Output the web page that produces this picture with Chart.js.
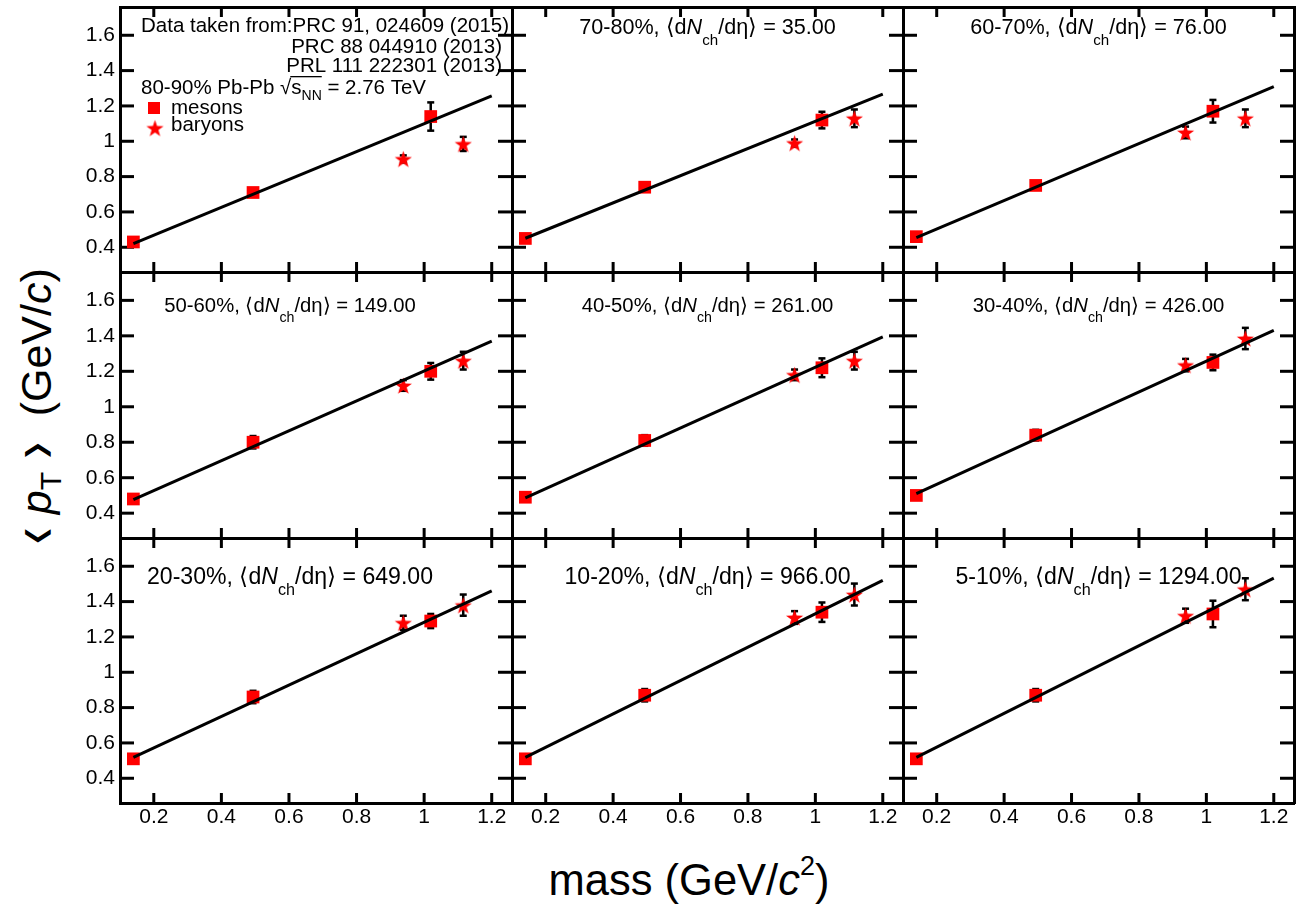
<!DOCTYPE html>
<html>
<head>
<meta charset="utf-8">
<script src="https://cdn.jsdelivr.net/npm/chart.js@4.4.1/dist/chart.umd.min.js"></script>
<style>
  html, body { margin: 0; padding: 0; background: #fff; }
  #page { position: relative; width: 1314px; height: 909px; overflow: hidden;
          font-family: "Liberation Sans", Arial, sans-serif; color: #000; }
  .panel { position: absolute; }
  .panel canvas { display: block; }
  #ytitle { position: absolute; left: 36px; top: 413px; font-size: 43px; line-height: 1;
            white-space: nowrap; transform: translate(-50%, -50%) rotate(-90deg); }
  #ytitle .br { display: inline-block; font-family: "DejaVu Sans"; font-size: 40px;
                transform: scale(1.5, 0.72); margin: 0 14px; }
  #ytitle sub { font-size: 0.7em; vertical-align: -0.35em; line-height: 0; }
  #xtitle { position: absolute; left: 689px; top: 859px; font-size: 43.5px; line-height: 1;
            white-space: nowrap; transform: translateX(-50%); }
  #xtitle sup { font-size: 0.62em; vertical-align: 0.75em; line-height: 0; }
</style>
</head>
<body>
<div id="page">
  <div id="ytitle"><span class="br">&#10216;</span><i>p</i><sub>T</sub><span class="br">&#10217;</span> (GeV/<i>c</i>)</div>
  <div id="xtitle">mass (GeV/<i>c</i><sup>2</sup>)</div>
</div>
<script>
const FONT = '"Liberation Sans", Arial, sans-serif';

// centrality classes and <dN_ch/deta>, one per panel (row by row)
const CENTRALITY = ["80-90%", "70-80%", "60-70%", "50-60%", "40-50%", "30-40%", "20-30%", "10-20%", "5-10%"];
const DNDETA = [null, "35.00", "76.00", "149.00", "261.00", "426.00", "649.00", "966.00", "1294.00"];

// particle masses (GeV/c^2): pi, K, phi  /  p, Lambda
const MESON_MASS = [0.1396, 0.4937, 1.0195];
const BARYON_MASS = [0.9383, 1.1157];

// <pT>
const MESON_PT = [
  [0.43, 0.71, 1.14], [0.45, 0.74, 1.12], [0.46, 0.75, 1.17],
  [0.48, 0.80, 1.20], [0.49, 0.81, 1.22], [0.50, 0.84, 1.25],
  [0.51, 0.86, 1.29], [0.51, 0.87, 1.34], [0.51, 0.87, 1.33],
];
const MESON_ERR = [
  [0.01, 0.015, 0.08], [0.01, 0.015, 0.047], [0.01, 0.015, 0.064],
  [0.01, 0.035, 0.047], [0.01, 0.03, 0.053], [0.01, 0.03, 0.044],
  [0.01, 0.035, 0.04], [0.01, 0.035, 0.055], [0.01, 0.035, 0.075],
];
const BARYON_PT = [
  [0.90, 0.985], [0.99, 1.13], [1.05, 1.13],
  [1.12, 1.26], [1.18, 1.26], [1.235, 1.385],
  [1.28, 1.38], [1.31, 1.44], [1.32, 1.47],
];
const BARYON_ERR = [
  [0.02, 0.04], [0.02, 0.05], [0.033, 0.05],
  [0.03, 0.05], [0.03, 0.05], [0.035, 0.06],
  [0.04, 0.06], [0.036, 0.062], [0.04, 0.062],
];

// linear fit drawn from the pion mass up to 1.2
const FIT_X = [0.1396, 1.2];
const FIT_Y = [
  [0.42, 1.257], [0.451, 1.267], [0.454, 1.309],
  [0.476, 1.37], [0.486, 1.394], [0.51, 1.431],
  [0.518, 1.461], [0.518, 1.52], [0.518, 1.533],
];

const X_TICKS = [0.2, 0.4, 0.6, 0.8, 1, 1.2];
const Y_TICKS = [0.4, 0.6, 0.8, 1, 1.2, 1.4, 1.6];
const X_RANGE = [0.1, 1.26];
const Y_RANGE = [0.26, 1.76];

const SOURCES = ["Data taken from:PRC 91, 024609 (2015)", "PRC 88 044910 (2013)", "PRL 111 222301 (2013)"];

// frame geometry of the 3x3 grid
const FRAME_LEFT = [120, 512, 903];
const FRAME_TOP = [7, 272, 538];
const FRAME_W = [392, 391, 391];
const FRAME_H = [265, 266, 265];
const LABEL_DROP = [26, 39, 45];
const LABEL_SIZE = [21.6, 20.3, 23.1];
const RED = "#ff0000";

function starImage(size, color) {
  const cv = document.createElement("canvas");
  cv.width = cv.height = size;
  const ctx = cv.getContext("2d");
  const c = size / 2;
  const ro = size / 2 - 0.5;
  const ri = ro * 0.4;
  ctx.beginPath();
  for (let k = 0; k < 10; k++) {
    const r = k % 2 ? ri : ro;
    const a = -Math.PI / 2 + (k * Math.PI) / 5;
    const px = c + r * Math.cos(a);
    const py = c + 1 + r * Math.sin(a);
    if (k === 0) ctx.moveTo(px, py); else ctx.lineTo(px, py);
  }
  ctx.closePath();
  ctx.fillStyle = color;
  ctx.fill();
  return cv;
}

const STAR = starImage(19, RED);

function drawRich(ctx, parts, x, y, align) {
  let width = 0;
  parts.forEach((p) => {
    ctx.font = p.font;
    p.w = ctx.measureText(p.text).width;
    width += p.w;
  });
  let cx = align === "center" ? x - width / 2 : align === "right" ? x - width : x;
  parts.forEach((p) => {
    ctx.font = p.font;
    p.x = cx;
    ctx.fillText(p.text, cx, y + (p.dy || 0));
    cx += p.w;
  });
  return parts;
}

const fNorm = `20.5px ${FONT}`;

// one linear axis: frame edge plus (optionally) tick labels
function axis(position, range, values, size, showLabels, labelPad) {
  const horizontal = position === "top" || position === "bottom";
  return {
    type: "linear",
    position,
    min: range[0],
    max: range[1],
    display: true,
    afterBuildTicks: (s) => { s.ticks = values.map((value) => ({ value })); },
    afterFit: (s) => {
      if (horizontal) s.height = size; else s.width = size;
      s.paddingLeft = 0;
      s.paddingRight = 0;
      s.paddingTop = 0;
      s.paddingBottom = 0;
    },
    grid: { display: false, drawTicks: false },
    border: { display: true, width: 3, color: "#000" },
    ticks: {
      display: showLabels,
      padding: labelPad,
      font: { family: FONT, size: 21 },
      color: "#000",
      maxRotation: 0,
      autoSkip: false,
      callback: (v) => String(v),
    },
  };
}

// inward tick marks on one frame edge, drawn as short dashes at the tick values
function tickMarks(points, length, rotation) {
  return {
    data: points,
    pointStyle: "dash",
    pointRadius: length,
    pointRotation: rotation,
    borderColor: "#000",
    backgroundColor: "#000",
    borderWidth: 3,
    showLine: false,
    clip: false,
  };
}

function makePanel(i) {
  const row = Math.floor(i / 3);
  const col = i % 3;
  const showY = col === 0;
  const showX = row === 2;
  // canvases touch but never overlap; outer edges get a little room
  const padL = showY ? 120 : 0;
  const padR = col === 2 ? 4 : 0;
  const padT = row === 0 ? 4 : 0;
  const padB = showX ? 50 : 0;
  const w = FRAME_W[col] + padL + padR;
  const h = FRAME_H[row] + padT + padB;

  const holder = document.createElement("div");
  holder.className = "panel";
  holder.style.left = `${FRAME_LEFT[col] - padL}px`;
  holder.style.top = `${FRAME_TOP[row] - padT}px`;
  const canvas = document.createElement("canvas");
  canvas.width = w;
  canvas.height = h;
  canvas.style.width = `${w}px`;
  canvas.style.height = `${h}px`;
  holder.append(canvas);
  document.getElementById("page").append(holder);

  const errorBars = {
    id: "errorBars",
    beforeDatasetsDraw(chart) {
      const { ctx } = chart;
      const yScale = chart.scales.y;
      ctx.save();
      ctx.fillStyle = "#000";
      chart.data.datasets.forEach((ds, di) => {
        if (!ds.errors) return;
        chart.getDatasetMeta(di).data.forEach((pt, k) => {
          const v = ds.data[k].y;
          const e = ds.errors[k];
          const y1 = yScale.getPixelForValue(v + e);
          const y2 = yScale.getPixelForValue(v - e);
          ctx.fillRect(pt.x - 1.25, y1, 2.5, y2 - y1);
          ctx.fillRect(pt.x - 3.5, y1 - 1.25, 7, 2.5);
          ctx.fillRect(pt.x - 3.5, y2 - 1.25, 7, 2.5);
        });
      });
      ctx.restore();
    },
  };

  const panelText = {
    id: "panelText",
    afterDraw(chart) {
      const ctx = chart.ctx;
      const a = chart.chartArea;
      ctx.save();
      ctx.fillStyle = "#000";
      ctx.textBaseline = "alphabetic";
      if (i === 0) {
        ctx.font = fNorm;
        ctx.textAlign = "left";
        ctx.fillText(SOURCES[0], a.left + 21, a.top + 25);
        ctx.textAlign = "right";
        ctx.fillText(SOURCES[1], a.left + 382, a.top + 46);
        ctx.fillText(SOURCES[2], a.left + 382, a.top + 65);
        ctx.textAlign = "left";
        const parts = drawRich(ctx, [
          { text: `${CENTRALITY[0]} Pb-Pb `, font: fNorm },
          { text: "\u221A", font: fNorm },
          { text: "s", font: fNorm },
          { text: "NN", font: `14px ${FONT}`, dy: 6 },
          { text: " = 2.76 TeV", font: fNorm },
        ], a.left + 21, a.top + 87, "left");
        ctx.fillRect(parts[2].x - 1, a.top + 69, parts[3].x + parts[3].w - parts[2].x + 1, 1.3);
        ctx.fillStyle = RED;
        ctx.fillRect(a.left + 28, a.top + 95, 12, 12);
        ctx.drawImage(STAR, a.left + 35 - 9.5, a.top + 121 - 9.5);
        ctx.fillStyle = "#000";
        ctx.font = fNorm;
        ctx.fillText("mesons", a.left + 51, a.top + 107);
        ctx.fillText("baryons", a.left + 51, a.top + 124);
      } else {
        const s = LABEL_SIZE[row];
        const cx = col === 0 ? a.left + 170 : (a.left + a.right) / 2;
        drawRich(ctx, [
          { text: `${CENTRALITY[i]}, \u27E8d`, font: `${s}px ${FONT}` },
          { text: "N", font: `italic ${s}px ${FONT}` },
          { text: "ch", font: `${s * 0.7}px ${FONT}`, dy: s * 0.49 },
          { text: `/d\u03B7\u27E9 = ${DNDETA[i]}`, font: `${s}px ${FONT}` },
        ], cx, a.top + LABEL_DROP[row] + 1, "center");
      }
      ctx.restore();
    },
  };

  return new Chart(canvas, {
    type: "scatter",
    data: {
      datasets: [
        {
          type: "line",
          data: FIT_X.map((x, k) => ({ x, y: FIT_Y[i][k] })),
          borderColor: "#000",
          borderWidth: 3,
          pointRadius: 0,
          fill: false,
        },
        {
          label: "mesons",
          data: MESON_MASS.map((x, k) => ({ x, y: MESON_PT[i][k] })),
          errors: MESON_ERR[i],
          pointStyle: "rect",
          pointRadius: 9,
          backgroundColor: RED,
          borderWidth: 0,
        },
        {
          label: "baryons",
          data: BARYON_MASS.map((x, k) => ({ x, y: BARYON_PT[i][k] })),
          errors: BARYON_ERR[i],
          pointStyle: STAR,
          pointRadius: 9,
          backgroundColor: RED,
          borderWidth: 0,
        },
        tickMarks(Y_TICKS.map((y) => ({ x: X_RANGE[0], y })), 14, 0),
        tickMarks(Y_TICKS.map((y) => ({ x: X_RANGE[1], y })), 14, 180),
        tickMarks(X_TICKS.map((x) => ({ x, y: Y_RANGE[0] })), 10, -90),
        tickMarks(X_TICKS.map((x) => ({ x, y: Y_RANGE[1] })), 10, 90),
      ],
    },
    options: {
      responsive: false,
      animation: false,
      events: [],
      layout: {
        autoPadding: false,
        padding: { left: 0, right: padR, top: padT, bottom: 0 },
      },
      scales: {
        x: axis("bottom", X_RANGE, X_TICKS, padB, showX, 2),
        x2: axis("top", X_RANGE, X_TICKS, 0, false, 0),
        y: axis("left", Y_RANGE, Y_TICKS, padL, showY, 5),
        y2: axis("right", Y_RANGE, Y_TICKS, 0, false, 0),
      },
      plugins: {
        legend: { display: false },
        tooltip: { enabled: false },
      },
    },
    plugins: [errorBars, panelText],
  });
}

for (let i = 0; i < 9; i++) {
  makePanel(i);
}
</script>
</body>
</html>
